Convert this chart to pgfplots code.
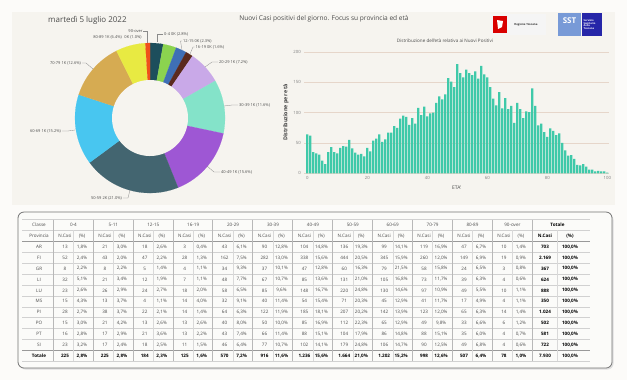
\documentclass[border=0pt]{standalone}
\usepackage{pgfplots}
\pgfplotsset{compat=1.18}
\usepackage{pgfplotstable}
\usepackage{fontspec}
\setmainfont{Open Sans}
\definecolor{bgc}{HTML}{FCFBF9}
\definecolor{panel}{HTML}{F6F4EF}
\definecolor{tgrey}{HTML}{4A4A4A}
\definecolor{lgrid}{HTML}{E6D6CA}
\definecolor{barc}{HTML}{3FC9A9}
\definecolor{lead}{HTML}{8A8A8A}
\definecolor{cA}{HTML}{1D4E5C}
\definecolor{cB}{HTML}{8BD34F}
\definecolor{cC}{HTML}{3F6FB5}
\definecolor{cD}{HTML}{5B2A1E}
\definecolor{cE}{HTML}{C9A9E8}
\definecolor{cF}{HTML}{84E3C9}
\definecolor{cG}{HTML}{9E57D4}
\definecolor{cH}{HTML}{436570}
\definecolor{cI}{HTML}{48C6F0}
\definecolor{cJ}{HTML}{D6AB52}
\definecolor{cK}{HTML}{E8EA42}
\definecolor{cL}{HTML}{F0501A}
\pgfplotstableread{
age n
0 64
1 62
2 35
3 33
4 31
5 21
6 15
7 35
8 43
9 35
10 33
11 42
12 45
13 44
14 55
15 41
16 34
17 31
18 32
19 28
20 42
21 36
22 54
23 57
24 64
25 52
26 56
27 67
28 67
29 78
30 75
31 90
32 95
33 93
34 80
35 91
36 82
37 108
38 96
39 110
40 94
41 99
42 100
43 116
44 127
45 122
46 130
47 157
48 151
49 142
50 180
51 165
52 158
53 171
54 165
55 162
56 168
57 156
58 177
59 163
60 158
61 142
62 123
63 112
64 134
65 107
66 124
67 106
68 111
69 83
70 116
71 106
72 91
73 102
74 101
75 140
76 111
77 79
78 82
79 68
80 60
81 74
82 70
83 63
84 66
85 50
86 38
87 29
88 30
89 24
90 14
91 13
92 15
93 11
94 6
95 6
96 3
97 4
98 3
99 3
100 1
}\agetab
\newcommand\fs[1]{\fontsize{#1}{#1}\selectfont}
\newcommand\slice[3]{%
  \pgfmathsetmacro\aA{90-(#1/7930)*360}%
  \pgfmathsetmacro\aB{90-(#2/7930)*360}%
  \edef\doslice{\noexpand\addplot[fill=#3, draw=#3, line width=0.1pt, domain=\aB:\aA, samples=60] ({75*cos(x)},{75*sin(x)}) -- (axis cs:0,0) -- cycle;}%
  \doslice}
\tikzset{tt/.style={font=\fs{4.6}, text=tgrey, inner sep=0pt, anchor=center},
  dl/.style={font=\fs{4}, text=tgrey, inner sep=0pt},
  ld/.style={draw=lead, line width=0.3pt}}
\newcommand\trow[4]{%
  \node[tt] at (39,#1) {#3#2};
  \foreach \v [count=\i from 0] in {#4} {%
    \pgfmathtruncatemacro\g{int(\i/2)}%
    \pgfmathtruncatemacro\s{mod(\i,2)}%
    \ifnum\g<12 \pgfmathsetmacro\xx{65+39.9*\g+17*\s}\def\cf{#3}\else\pgfmathsetmacro\xx{545+25*\s}\def\cf{\bfseries\color{black}}\fi
    \ifnum\s=0
      \node[tt] at (\xx,#1) {\cf\pgfmathprintnumber[fixed,precision=0,1000 sep={.},assume math mode=true]{\v}};
    \else
      \node[tt] at (\xx,#1) {\cf\pgfmathprintnumber[fixed,fixed zerofill,precision=1,use comma,assume math mode=true]{\v}\%};
    \fi
  }}
\begin{document}
\begin{tikzpicture}[x=1bp,y=-1bp]
\fill[bgc] (0,0) rectangle (627,380);
\fill[panel] (12,12) rectangle (615,205);
% titles
\node[anchor=west, font=\fs{8}, text=tgrey, inner sep=0pt] at (48,20) {martedì 5 luglio 2022};
\node[font=\fs{6.6}, text=tgrey, inner sep=0pt] at (324,19) {Nuovi Casi positivi del giorno. Focus su provincia ed età};
\node[font=\fs{4.6}, text=tgrey, inner sep=0pt] at (445,41) {Distribuzione dell'età relativa ai Nuovi Positivi};
% logos
\fill[white!92!gray] (490,14) rectangle (546,35);
\fill[red!85!black] (493,16) rectangle (507,33);
\fill[white] (497,20) -- (503,21) -- (502,27) -- (498,29) -- cycle;
\node[font=\fs{2.8}\bfseries, text=black!80, inner sep=0pt] at (526,25) {Regione Toscana};
\fill[cyan!45!blue!55] (558,13) rectangle (581,36);
\node[font=\fs{8}\bfseries, text=white, inner sep=0pt] at (569.5,21) {SST};
\fill[blue!60!black!85] (582,13) rectangle (602,36);
\node[font=\fs{2.6}\bfseries, text=white, inner sep=0pt, align=left, anchor=west] at (583.5,24.5) {Servizio\\Sanitario\\della\\Toscana};
% donut
\begin{axis}[at={(150bp,-118bp)}, anchor=center, scale only axis, width=150bp, height=150bp,
  xmin=-75, xmax=75, ymin=-75, ymax=75, hide axis, clip=false]
\slice{0}{225}{cA}
\slice{225}{450}{cB}
\slice{450}{634}{cC}
\slice{634}{759}{cD}
\slice{759}{1329}{cE}
\slice{1329}{2245}{cF}
\slice{2245}{3481}{cG}
\slice{3481}{5145}{cH}
\slice{5145}{6347}{cI}
\slice{6347}{7345}{cJ}
\slice{7345}{7852}{cK}
\slice{7852}{7930}{cL}
\addplot[fill=panel, draw=none, domain=0:360, samples=120] ({38*cos(x)},{38*sin(x)}) -- cycle;
\end{axis}
% donut labels
\draw[ld] (157,42) -- (157,34) -- (163,34);
\node[dl, anchor=west] at (164,34) {0-4 0K (2.8\%)};
\draw[ld] (182,50) -- (180.5,41) -- (182,41);
\node[dl, anchor=west] at (183,41) {12-15 0K (2.3\%)};
\draw[ld] (190,54) -- (193,47) -- (194.5,47);
\node[dl, anchor=west] at (195.5,47) {16-19 0K (1.6\%)};
\draw[ld] (205,67) -- (212,62) -- (218,62);
\node[dl, anchor=west] at (219,62) {20-29 1K (7.2\%)};
\draw[ld] (224,106) -- (232,105) -- (238,105);
\node[dl, anchor=west] at (239,105) {30-39 1K (11.6\%)};
\draw[ld] (207,166) -- (214,172) -- (220,172);
\node[dl, anchor=west] at (221,172) {40-49 1K (15.6\%)};
\draw[ld] (130,190) -- (128,198) -- (123,198);
\node[dl, anchor=east] at (122,198) {50-59 2K (21.0\%)};
\draw[ld] (75,130) -- (68,131) -- (62,131);
\node[dl, anchor=east] at (61,131) {60-69 1K (15.2\%)};
\draw[ld] (93,69) -- (86,63) -- (82,63);
\node[dl, anchor=east] at (81,63) {70-79 1K (12.6\%)};
\node[dl, anchor=east] at (122,37) {80-89 1K (6.4\%)};
\draw[ld] (147,43) -- (147,31) -- (143,31);
\node[dl] at (135.5,31) {90-over};
\node[dl] at (133,37) {0K (1.0\%)};
% histogram
\begin{axis}[at={(304.3bp,-173.3bp)}, anchor=south west, scale only axis, width=304.5bp, height=121.3bp,
  xmin=-1, xmax=100.5, ymin=0, ymax=200,
  ybar, bar width=2.3bp,
  axis line style={draw=none}, major tick length=0pt,
  ymajorgrids, grid style={lgrid, line width=0.5pt},
  xtick={0,20,...,100}, ytick={0,50,...,200},
  ticklabel style={font=\fs{4.3}, text=gray},
  /pgf/number format/assume math mode=true,
  xlabel={ETA'}, ylabel={Distribuzione per età},
  xlabel style={font=\fs{5}, text=tgrey, at={(axis description cs:0.5,-0.12)}, anchor=center},
  ylabel style={font=\fs{5.4}\bfseries, text=black!75, at={(axis description cs:-0.06,0.5)}, anchor=center},
  clip=false]
\addplot[fill=barc, draw=none, bar shift=0pt] table[x=age,y=n]{\agetab};
\end{axis}
% table card
\fill[gray!25] (19.5,214) [rounded corners=6bp] rectangle (613.5,369.5);
\draw[fill=white!60!panel, draw=black!55, line width=0.8pt, rounded corners=6bp] (18,212) rectangle (612,368);
% grid lines
\foreach \j in {0,...,13} {\draw[black!18, line width=0.35pt] (22,219.55+10.9*\j) -- (590,219.55+10.9*\j);}
\draw[black!40, line width=0.5pt] (22,241.35) -- (590,241.35);
\draw[black!40, line width=0.5pt] (22,350.35) -- (590,350.35);
\foreach \g in {0,...,12} {\draw[black!28, line width=0.4pt] (53+39.9*\g,219.55) -- (53+39.9*\g,361.25);}
\foreach \g in {0,...,11} {\draw[black!15, line width=0.3pt] (73.5+39.9*\g,230.45) -- (73.5+39.9*\g,361.25);}
\draw[black!15, line width=0.3pt] (557.5,230.45) -- (557.5,361.25);
% headers
\node[tt] at (39,225) {Classe};
\foreach \lab [count=\g from 0] in {0-4,5-11,12-15,16-19,20-29,30-39,40-49,50-59,60-69,70-79,80-89,90-over} {
  \node[tt] at (73.5+39.9*\g,225) {\lab};
  \node[tt] at (65+39.9*\g,236) {N.Casi};
  \node[tt] at (82+39.9*\g,236) {(\%)};
}
\node[tt] at (557.5,225) {\bfseries\color{black}Totale};
\node[tt] at (39,236) {Provincia};
\node[tt] at (545,236) {\bfseries\color{black}N.Casi};
\node[tt] at (570,236) {\bfseries\color{black}(\%)};
% rows
\trow{246.8}{AR}{}{13,1.8,21,3.0,18,2.6,3,0.4,43,6.1,90,12.8,104,14.8,136,19.3,99,14.1,119,16.9,47,6.7,10,1.4,703,100}
\trow{257.7}{FI}{}{52,2.4,43,2.0,47,2.2,28,1.3,162,7.5,282,13.0,338,15.6,444,20.5,345,15.9,260,12.0,149,6.9,19,0.9,2169,100}
\trow{268.6}{GR}{}{8,2.2,8,2.2,5,1.4,4,1.1,34,9.3,37,10.1,47,12.8,60,16.3,79,21.5,58,15.8,24,6.5,3,0.8,367,100}
\trow{279.5}{LI}{}{32,5.1,21,3.4,12,1.9,7,1.1,48,7.7,67,10.7,85,13.6,131,21.0,105,16.8,73,11.7,39,6.3,4,0.6,624,100}
\trow{290.4}{LU}{}{23,2.6,26,2.9,24,2.7,18,2.0,58,6.5,85,9.6,148,16.7,220,24.8,130,14.6,97,10.9,49,5.5,10,1.1,888,100}
\trow{301.3}{MS}{}{15,4.3,13,3.7,4,1.1,14,4.0,32,9.1,40,11.4,54,15.4,71,20.3,45,12.9,41,11.7,17,4.9,4,1.1,350,100}
\trow{312.2}{PI}{}{28,2.7,38,3.7,22,2.1,14,1.4,64,6.3,122,11.9,185,18.1,207,20.2,142,13.9,123,12.0,65,6.3,14,1.4,1024,100}
\trow{323.1}{PO}{}{15,3.0,21,4.2,13,2.6,13,2.6,40,8.0,50,10.0,85,16.9,112,22.3,65,12.9,49,9.8,33,6.6,6,1.2,502,100}
\trow{334.0}{PT}{}{16,2.8,17,2.9,21,3.6,13,2.2,43,7.4,66,11.4,88,15.1,104,17.9,86,14.8,88,15.1,35,6.0,4,0.7,581,100}
\trow{344.9}{SI}{}{23,3.2,17,2.4,18,2.5,11,1.5,46,6.4,77,10.7,102,14.1,179,24.8,106,14.7,90,12.5,49,6.8,4,0.6,722,100}
\trow{355.8}{Totale}{\bfseries\color{black}}{225,2.8,225,2.8,184,2.3,125,1.6,570,7.2,916,11.6,1236,15.6,1664,21.0,1202,15.2,998,12.6,507,6.4,78,1.0,7930,100}
\end{tikzpicture}
\end{document}
